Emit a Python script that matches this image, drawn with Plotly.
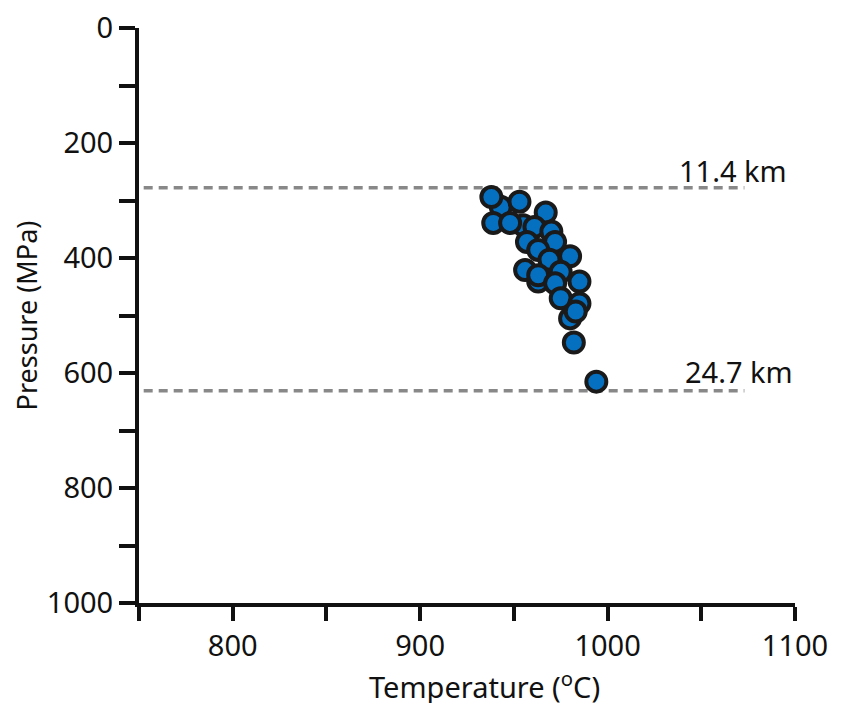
import plotly.graph_objects as go

# Data
temperature_c = [943, 938, 953, 939, 955, 948, 967, 961, 970, 957, 972, 963,
                 969, 980, 956, 963, 963, 975, 972, 985, 975, 985, 980, 983,
                 982, 994]
pressure_mpa = [311, 294, 302, 339, 343, 339, 321, 346, 354, 372, 372, 386,
                403, 397, 421, 441, 430, 424, 444, 441, 470, 479, 505, 493,
                547, 615]

depth_pressure = [278, 631]
depth_label = ["11.4 km", "24.7 km"]

x_tickvals = [750, 800, 850, 900, 950, 1000, 1050, 1100]
x_ticktext = ["", "800", "", "900", "", "1000", "", "1100"]
y_tickvals = [0, 100, 200, 300, 400, 500, 600, 700, 800, 900, 1000]
y_ticktext = ["0", "", "200", "", "400", "", "600", "", "800", "", "1000"]

FONT = "Noto Sans"
TEXT = "#111111"

fig = go.Figure()

fig.add_trace(go.Scatter(
    x=temperature_c, y=pressure_mpa, mode="markers",
    marker=dict(size=20, color="#0670c0",
                line=dict(color="#1a1a1a", width=4)),
    showlegend=False, hoverinfo="x+y",
))

line_x0, line_x1 = 752.5, 1073
for p, lab in zip(depth_pressure, depth_label):
    fig.add_shape(type="line", xref="x", yref="y",
                  x0=line_x0, x1=line_x1, y0=p, y1=p,
                  line=dict(color="#888888", width=3.5, dash="9px,6px"),
                  layer="below")

fig.add_annotation(x=1067, y=247, xref="x", yref="y", text=depth_label[0],
                   showarrow=False, font=dict(family=FONT, size=29, color=TEXT))
fig.add_annotation(x=1070, y=598, xref="x", yref="y", text=depth_label[1],
                   showarrow=False, font=dict(family=FONT, size=29, color=TEXT))

fig.add_annotation(x=0.527, y=0, xref="paper", yref="paper", yshift=-82,
                   text="Temperature (<sup>o</sup>C)", showarrow=False,
                   yanchor="middle",
                   font=dict(family=FONT, size=29, color=TEXT))

fig.update_xaxes(range=[750, 1100], tickvals=x_tickvals, ticktext=x_ticktext,
                 showgrid=False, zeroline=False, showline=True, automargin=False,
                 ticklabeloverflow="allow",
                 linecolor="#111111", linewidth=4,
                 ticks="outside", ticklen=14, tickwidth=4, tickcolor="#111111",
                 tickfont=dict(family=FONT, size=29, color=TEXT))
fig.update_yaxes(range=[1000, 0], tickvals=y_tickvals, ticktext=y_ticktext,
                 showgrid=False, zeroline=False, showline=True, automargin=False,
                 ticklabeloverflow="allow",
                 linecolor="#111111", linewidth=4,
                 ticks="outside", ticklen=16, tickwidth=4, tickcolor="#111111",
                 tickfont=dict(family=FONT, size=29, color=TEXT),
                 title=dict(text="Pressure (MPa)", standoff=2,
                            font=dict(family=FONT, size=27, color=TEXT)))

fig.update_layout(
    width=849, height=703,
    margin=dict(l=131, r=62, t=20, b=108),
    plot_bgcolor="white", paper_bgcolor="white",
)

fig.write_html("out.html")
